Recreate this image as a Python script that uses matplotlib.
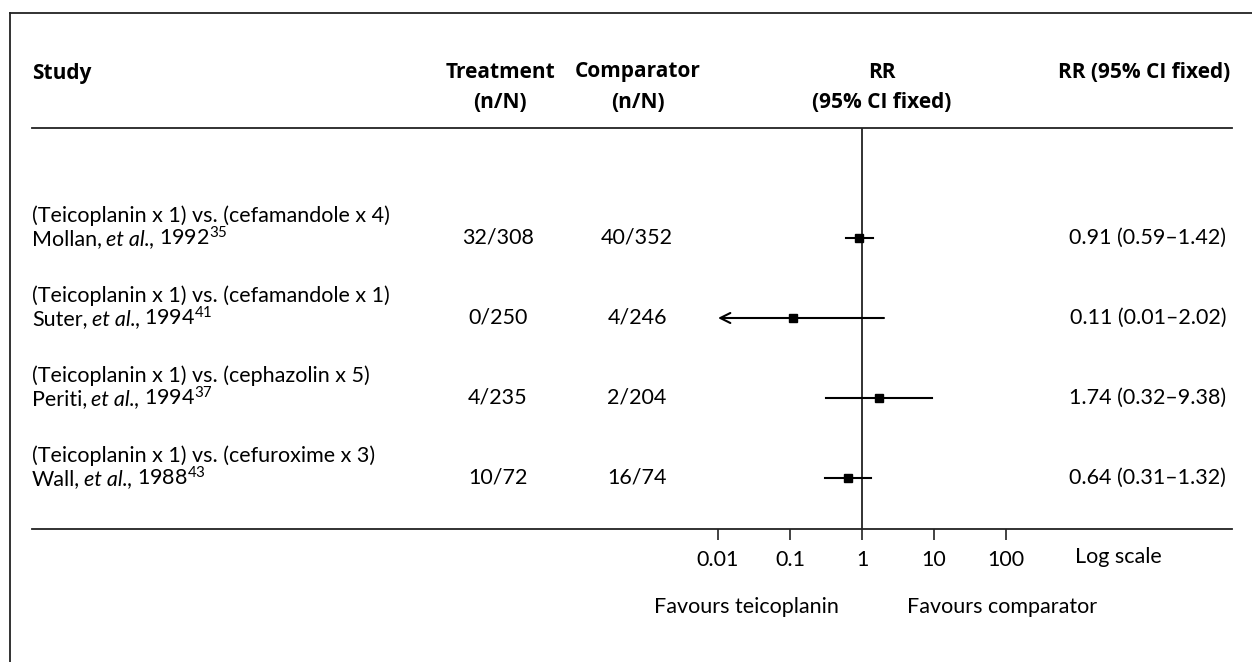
import matplotlib
matplotlib.use('Agg')
import matplotlib.pyplot as plt
from matplotlib.lines import Line2D

plt.rcParams['font.family'] = ['Lato', 'DejaVu Sans']
plt.rcParams['mathtext.fontset'] = 'custom'
plt.rcParams['mathtext.rm'] = 'Lato'
plt.rcParams['mathtext.it'] = 'Lato:italic'

# Data
comparisons = ['(Teicoplanin x 1) vs. (cefamandole x 4)',
               '(Teicoplanin x 1) vs. (cefamandole x 1)',
               '(Teicoplanin x 1) vs. (cephazolin x 5)',
               '(Teicoplanin x 1) vs. (cefuroxime x 3)']
authors = ['Mollan', 'Suter', 'Periti', 'Wall']
years = ['1992', '1994', '1994', '1988']
refs = ['35', '41', '37', '43']
treatment = ['32/308', '0/250', '4/235', '10/72']
comparator = ['40/352', '4/246', '2/204', '16/74']
rr = [0.91, 0.11, 1.74, 0.64]
ci_lo = [0.59, 0.01, 0.32, 0.31]
ci_hi = [1.42, 2.02, 9.38, 1.32]
tick_vals = [0.01, 0.1, 1, 10, 100]
tick_labels = ['0.01', '0.1', '1', '10', '100']

W, H = 1252, 662
fs = 15.5
fig = plt.figure(figsize=(W / 100, H / 100), dpi=100)
renderer = fig.canvas.get_renderer()

# background axes in pixel coordinates for text and frame
bg = fig.add_axes([0, 0, 1, 1])
bg.set_xlim(0, W)
bg.set_ylim(H, 0)
bg.axis('off')
bg.add_line(Line2D([10, 10], [13, H], color='#222222', lw=1.3))
bg.add_line(Line2D([10, W], [13, 13], color='#222222', lw=1.3))

# forest axes: x=1 at 862 px, 72 px per decade
left_px, right_px, top_px, bot_px = 32, 1232, 128, 529
x1_px, decade = 862, 72
ax = fig.add_axes([left_px / W, (H - bot_px) / H,
                   (right_px - left_px) / W, (bot_px - top_px) / H])
ax.set_xscale('log')
ax.set_xlim(10 ** ((left_px - x1_px) / decade), 10 ** ((right_px - x1_px) / decade))
ax.set_ylim(bot_px, top_px)
ax.patch.set_alpha(0)
for s in ['left', 'right']:
    ax.spines[s].set_visible(False)
for s in ['top', 'bottom']:
    ax.spines[s].set_linewidth(1.3)
    ax.spines[s].set_color('#222222')
ax.set_yticks([])
ax.set_xticks(tick_vals)
ax.set_xticklabels(tick_labels, fontsize=fs)
ax.xaxis.set_minor_locator(matplotlib.ticker.NullLocator())
ax.tick_params(axis='x', length=8, width=1.2, pad=7, color='#222222')
ax.axvline(1, color='#222222', lw=1.3)


def study_label(x, y, author, year, ref):
    # author, italic "et al.," and year with superscript reference, side by side
    space = fs * 0.27
    t = bg.text(x, y, author + ',', fontsize=fs, va='baseline')
    x = x + t.get_window_extent(renderer).width + space
    t = bg.text(x, y, 'et al.,', fontsize=fs, va='baseline', style='italic')
    x = x + t.get_window_extent(renderer).width + space
    bg.text(x, y, year + r'$^{' + ref + '}$', fontsize=fs, va='baseline')


row_y = [238 + 80 * i for i in range(len(authors))]

for i in range(len(authors)):
    y = row_y[i]
    if ci_lo[i] <= 0.01:
        ax.annotate('', xy=(ci_lo[i], y), xytext=(ci_hi[i], y),
                    arrowprops=dict(arrowstyle='->', lw=1.5, color='black',
                                    mutation_scale=18, shrinkA=0, shrinkB=0))
    else:
        ax.plot([ci_lo[i], ci_hi[i]], [y, y], color='black', lw=1.5)
    ax.plot(rr[i], y, marker='s', ms=5.5, color='black')

    bg.text(32, y - 22, comparisons[i], fontsize=fs, va='center')
    study_label(32, y + 7, authors[i], years[i], refs[i])
    bg.text(498, y, treatment[i], fontsize=fs, va='center', ha='center')
    bg.text(637, y, comparator[i], fontsize=fs, va='center', ha='center')
    bg.text(1226, y, f'{rr[i]:.2f} ({ci_lo[i]:.2f}\u2013{ci_hi[i]:.2f})',
            fontsize=fs, va='center', ha='right')

# headers
hb = dict(fontsize=15, fontweight='bold', va='center', family=['Open Sans', 'DejaVu Sans'])
bg.text(32, 73, 'Study', **hb)
bg.text(500, 72, 'Treatment', ha='center', **hb)
bg.text(500, 103, '(n/N)', ha='center', **hb)
bg.text(638, 72, 'Comparator', ha='center', **hb)
bg.text(638, 103, '(n/N)', ha='center', **hb)
bg.text(882, 72, 'RR', ha='center', **hb)
bg.text(882, 103, '(95% CI fixed)', ha='center', **hb)
bg.text(1230, 72, 'RR (95% CI fixed)', ha='right', **hb)

# bottom annotations
bg.text(1075, 557, 'Log scale', fontsize=fs, va='center')
bg.text(839, 607, 'Favours teicoplanin', fontsize=fs, va='center', ha='right')
bg.text(907, 607, 'Favours comparator', fontsize=fs, va='center')

fig.savefig('out.png', dpi=100)
